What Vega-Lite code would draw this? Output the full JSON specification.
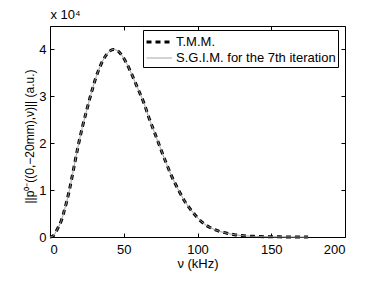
{
  "$schema": "https://vega.github.io/schema/vega-lite/v6.json",
  "width": 295,
  "height": 211,
  "autosize": {"type": "none"},
  "padding": {"left": 50, "top": 26, "right": 37, "bottom": 48},
  "background": "white",
  "config": {
    "font": "Liberation Sans",
    "view": {"stroke": null},
    "axis": {"grid": false, "domainColor": "black", "tickColor": "black", "labelColor": "black", "titleColor": "black", "labelFontSize": 13, "titleFontSize": 13, "titleFontWeight": "normal", "tickSize": -4, "domainWidth": 1, "tickWidth": 1},
    "legend": {"title": null, "orient": "none", "legendX": 93, "legendY": 4, "strokeColor": "black", "fillColor": "white", "padding": 2, "labelFontSize": 13, "labelLimit": 400, "symbolSize": 289, "symbolType": "M-1,0H2", "rowPadding": 0, "labelOffset": 11, "labelColor": "black"}
  },
  "data": {
    "values": [
      {"nu": 0, "v": 0}, {"nu": 2, "v": 200}, {"nu": 5, "v": 1700}, {"nu": 8, "v": 3800},
      {"nu": 10, "v": 6000}, {"nu": 13, "v": 9800}, {"nu": 16, "v": 14500}, {"nu": 19, "v": 19300},
      {"nu": 22, "v": 23500}, {"nu": 25, "v": 27200}, {"nu": 28, "v": 30700}, {"nu": 31, "v": 33900},
      {"nu": 34, "v": 36400}, {"nu": 37, "v": 38300}, {"nu": 40, "v": 39500}, {"nu": 43, "v": 40000},
      {"nu": 46, "v": 39700}, {"nu": 49, "v": 38600}, {"nu": 52, "v": 37000}, {"nu": 55, "v": 35000},
      {"nu": 58, "v": 32800}, {"nu": 61, "v": 30600}, {"nu": 64, "v": 28300}, {"nu": 67, "v": 25500},
      {"nu": 70, "v": 23000}, {"nu": 73, "v": 20500}, {"nu": 76, "v": 18000}, {"nu": 79, "v": 15600},
      {"nu": 82, "v": 13300}, {"nu": 85, "v": 11300}, {"nu": 88, "v": 9500}, {"nu": 91, "v": 7800},
      {"nu": 94, "v": 6400}, {"nu": 97, "v": 5200}, {"nu": 100, "v": 4100}, {"nu": 105, "v": 2700},
      {"nu": 110, "v": 1800}, {"nu": 115, "v": 1200}, {"nu": 120, "v": 800}, {"nu": 125, "v": 500},
      {"nu": 130, "v": 300}, {"nu": 140, "v": 120}, {"nu": 150, "v": 50}, {"nu": 160, "v": 20},
      {"nu": 175, "v": 0}
    ]
  },
  "encoding": {
    "x": {"field": "nu", "type": "quantitative", "scale": {"domain": [0, 200], "nice": false}},
    "y": {"field": "v", "type": "quantitative", "scale": {"domain": [0, 45000], "nice": false}}
  },
  "layer": [
    {
      "mark": {"type": "line", "interpolate": "monotone"},
      "encoding": {
        "x": {"field": "nu", "type": "quantitative",
              "axis": {"orient": "bottom", "values": [0, 50, 100, 150, 200], "title": "ν (kHz)", "labelPadding": 10, "titlePadding": 1}},
        "y": {"field": "v", "type": "quantitative",
              "axis": {"orient": "left", "values": [0, 10000, 20000, 30000, 40000], "labelExpr": "datum.value / 10000", "title": "||p⁰⁻((0,−20mm),ν)|| (a.u.)", "titleFontSize": 12, "labelPadding": 8, "titleX": -21, "titleY": 110, "titleAlign": "center", "titleBaseline": "middle", "titleAngle": -90}},
        "color": {"datum": "T.M.M.", "type": "nominal",
                  "scale": {"domain": ["T.M.M.", "S.G.I.M. for the 7th iteration"], "range": ["black", "#9a9a9a"]}},
        "strokeDash": {"datum": "T.M.M.", "type": "nominal",
                  "scale": {"domain": ["T.M.M.", "S.G.I.M. for the 7th iteration"], "range": [[5, 4], [1, 0]]}},
        "strokeWidth": {"datum": "T.M.M.", "type": "nominal",
                  "scale": {"domain": ["T.M.M.", "S.G.I.M. for the 7th iteration"], "range": [3, 1]}}
      }
    },
    {
      "mark": {"type": "line", "interpolate": "monotone"},
      "encoding": {
        "x": {"field": "nu", "type": "quantitative", "axis": {"orient": "top", "values": [0, 50, 100, 150, 200], "labels": false, "title": "x 10⁴", "titleAnchor": "start", "titleAlign": "left", "titleX": 0, "titleY": -5, "titleBaseline": "bottom"}},
        "y": {"field": "v", "type": "quantitative", "axis": {"orient": "right", "values": [0, 10000, 20000, 30000, 40000], "labels": false, "title": null}},
        "color": {"datum": "S.G.I.M. for the 7th iteration", "type": "nominal"},
        "strokeDash": {"datum": "S.G.I.M. for the 7th iteration", "type": "nominal"},
        "strokeWidth": {"datum": "S.G.I.M. for the 7th iteration", "type": "nominal"}
      }
    }
  ],
  "resolve": {"axis": {"x": "independent", "y": "independent"}}
}
